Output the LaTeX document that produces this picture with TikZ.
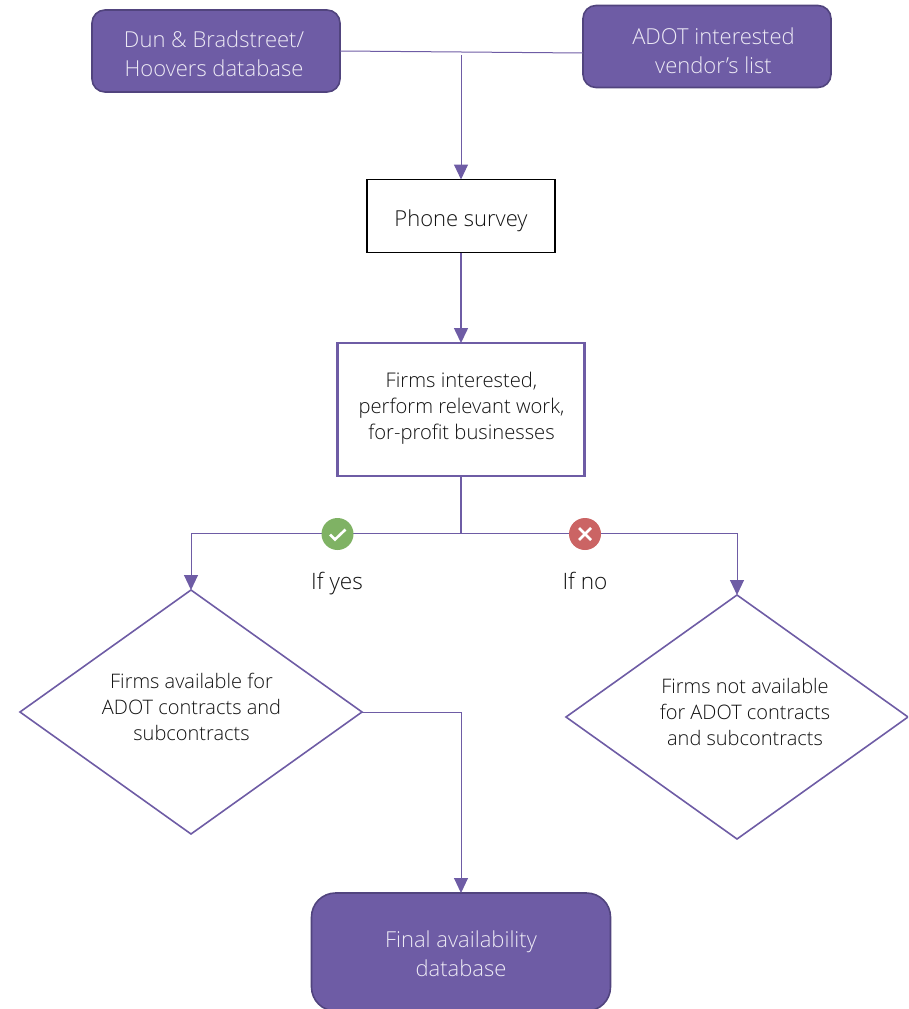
\documentclass[tikz,border=0pt]{standalone}
\usepackage{fontspec}
\setmainfont{Open Sans Light}
\usetikzlibrary{arrows.meta,shapes.geometric,calc}
\definecolor{pfill}{HTML}{6E5CA5}
\definecolor{pdark}{HTML}{51447E}
\definecolor{pline}{HTML}{6E5CA5}
\definecolor{ptext}{HTML}{EDEAF5}
\definecolor{ink}{HTML}{111111}
\definecolor{okgreen}{HTML}{7FB264}
\definecolor{nored}{HTML}{CB6464}
\newcommand{\boxtext}[3]{\raisebox{#2}[0pt][0pt]{\makebox[0pt]{\hspace{#1}\begin{tabular}{@{}c@{}}#3\end{tabular}}}}
\tikzset{
  x=1pt,y=-1pt,
  solidbox/.style={draw=pdark,line width=1.6pt,fill=pfill,text=ptext,rounded corners=13pt,font=\fontsize{22}{29}\selectfont,outer sep=0pt,inner sep=0pt},
  plainbox/.style={draw=black,line width=1.6pt,text=ink,font=\fontsize{22}{26}\selectfont,outer sep=0pt,inner sep=0pt},
  critbox/.style={draw=pline,line width=2.2pt,text=ink,font=\fontsize{20.2}{26}\selectfont,outer sep=0pt,inner sep=0pt},
  choice/.style={diamond,aspect=1.4,draw=pline,line width=1.6pt,text=ink,font=\fontsize{20}{26}\selectfont,minimum width=342pt,minimum height=244pt,inner sep=0pt,outer sep=0pt},
  link/.style={draw=pline,line width=1pt},
  linkb/.style={draw=pline,line width=1.6pt},
  tip/.style={-{Triangle[length=15pt,width=14pt]}},
  badge/.style={circle,minimum size=32pt,inner sep=0pt,outer sep=0pt},
  caption/.style={text=ink,font=\fontsize{22.6}{24}\selectfont,inner sep=0pt,anchor=base}
}
\begin{document}
\begin{tikzpicture}
\useasboundingbox (0,0) rectangle (908,1009);
\begin{scope}
\clip (0,0) rectangle (908,1009);
\node[solidbox,minimum width=248pt,minimum height=82pt] (dnb) at (216,51) {\boxtext{-4pt}{-10pt}{Dun \& Bradstreet/\\Hoovers database}};
\node[solidbox,minimum width=248pt,minimum height=82pt] (adot) at (707,46.5) {\boxtext{13pt}{-12pt}{ADOT interested\\vendor’s list}};
\node[plainbox,minimum width=188pt,minimum height=73pt] (phone) at (461,216) {\boxtext{0pt}{-10pt}{Phone survey}};
\node[critbox,minimum width=247pt,minimum height=133pt] (firms) at (461,409.5) {\boxtext{1pt}{-4pt}{Firms interested,\\perform relevant work,\\for-profit businesses}};
\node[choice] (yes) at (191,712) {\boxtext{1pt}{-2pt}{Firms available for\\ADOT contracts and\\subcontracts}};
\node[choice] (no) at (737,717) {\boxtext{16pt}{-2pt}{Firms not available\\for ADOT contracts\\and subcontracts}};
\node[solidbox,rounded corners=24pt,minimum width=299pt,minimum height=118pt] (final) at (461,952) {\boxtext{0pt}{-9pt}{Final availability\\database}};
\coordinate (merge) at (461,55);
\coordinate (split) at (461,533);
\draw[link] (dnb.east) -- ($(adot.west)+(0,6.5)$);
\draw[link,tip] (merge) -- (phone.north);
\draw[linkb,tip] (phone.south) -- (firms.north);
\draw[linkb] (firms.south) -- (split);
\draw[link,tip] (split) -| (yes.north);
\draw[link,tip] (split) -| (no.north);
\draw[link,tip] (yes.east) -| (final.north);
\node[badge,fill=okgreen] (ok) at (337.5,534) {};
\node[badge,fill=nored] (nope) at (585,534) {};
\draw[white,line width=2.6pt] ($(ok)+(-7.5,0.5)$) -- ($(ok)+(-2.5,5.5)$) -- ($(ok)+(8,-4.5)$);
\draw[white,line width=2.6pt] ($(nope)+(-6,-6)$) -- ($(nope)+(6,6)$) ($(nope)+(-6,6)$) -- ($(nope)+(6,-6)$);
\node[caption] (ify) at (337,589) {If yes};
\node[caption] (ifn) at (585,589) {If no};
\end{scope}
\end{tikzpicture}
\end{document}
